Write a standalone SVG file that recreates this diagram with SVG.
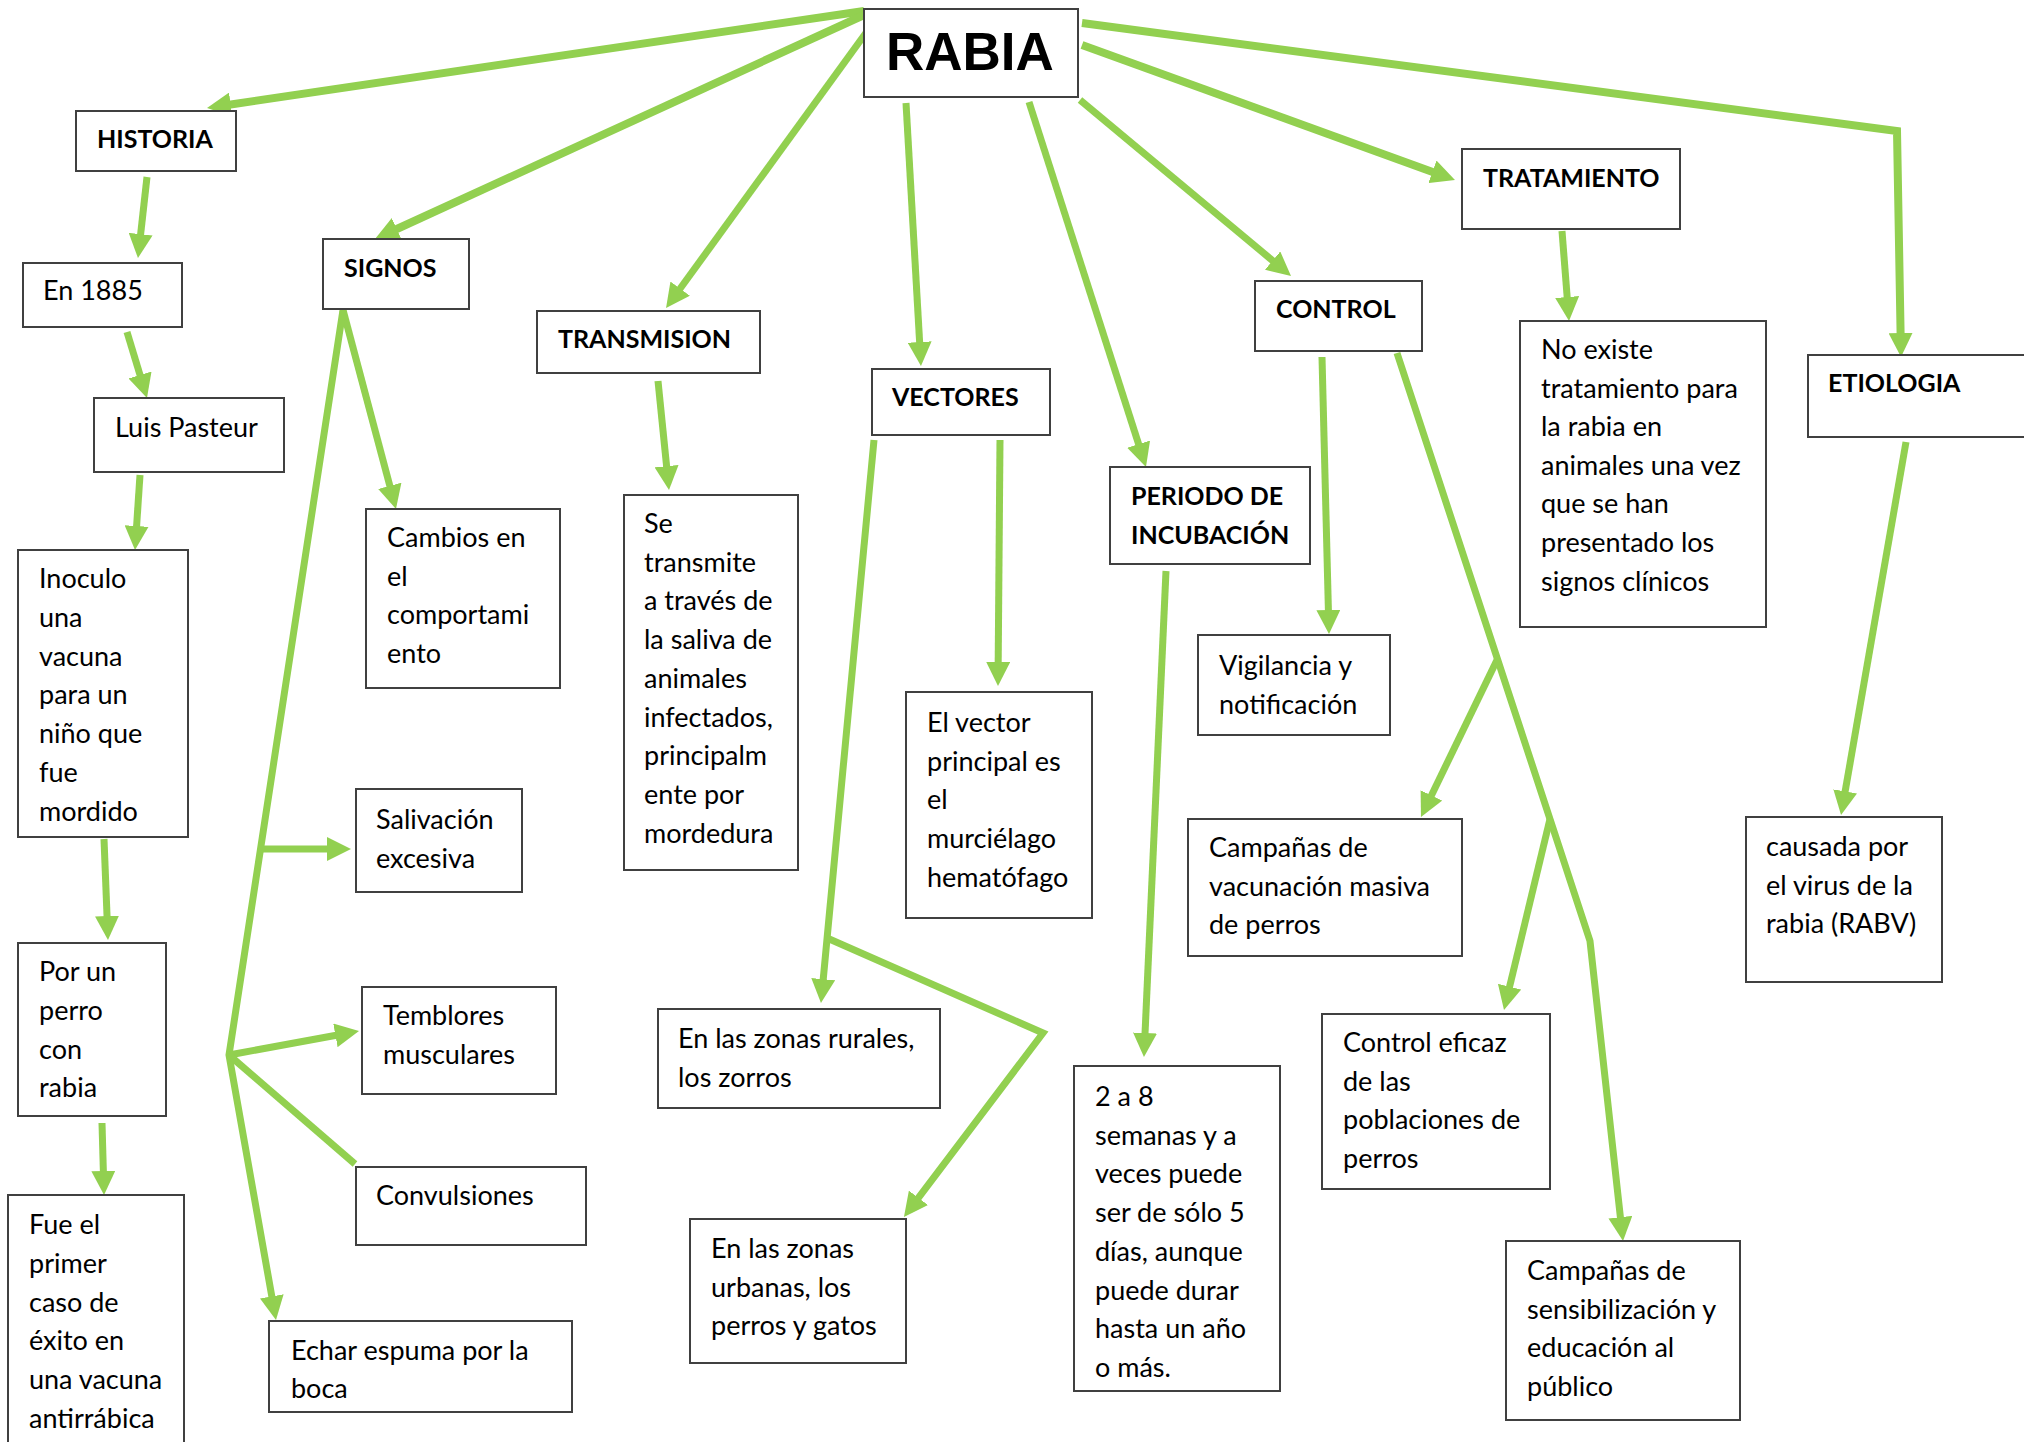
<svg xmlns="http://www.w3.org/2000/svg" width="2024" height="1442" viewBox="0 0 2024 1442">
<style>
.box{fill:#fff;stroke:#404040;stroke-width:2}
.tx{font-family:Lato,"Open Sans","Liberation Sans",sans-serif;font-size:27px;fill:#000}
.hd{font-family:Lato,"Open Sans","Liberation Sans",sans-serif;font-size:25px;font-weight:bold;fill:#000}
.c{fill:none;stroke:#92D050;stroke-width:7;marker-end:url(#ah)}
.t{fill:none;stroke:#92D050;stroke-width:8;marker-end:url(#ah)}
.n{fill:none;stroke:#92D050;stroke-width:7}
</style>
<defs>
<marker id="ah" viewBox="0 0 24 24" refX="12" refY="12" markerWidth="24" markerHeight="24" markerUnits="userSpaceOnUse" orient="auto">
<path d="M0,0 L24,12 L0,24 z" fill="#92D050"/>
</marker>
</defs>
<rect width="2024" height="1442" fill="#fff"/>
<g id="connectors">
<path class="t" d="M864,11 L218.9,106.2"/>
<path class="t" d="M864,15 L385.9,234"/>
<path class="c" d="M868,30 L673.1,298.3"/>
<path class="c" d="M906,103 L920.3,354"/>
<path class="c" d="M1029,102 L1142.3,455.6"/>
<path class="c" d="M1080,100 L1281.8,268.3"/>
<path class="t" d="M1082,45 L1443.7,175.9"/>
<path class="t" d="M1082,23 L1897,131 L1900.8,345"/>
<path class="c" d="M147,177 L139.3,246.1"/>
<path class="c" d="M127,332 L143.5,386.5"/>
<path class="c" d="M140,475 L135.8,538"/>
<path class="c" d="M104,839 L107.5,928"/>
<path class="c" d="M102,1123 L103.7,1183"/>
<path class="c" d="M658,381 L667.8,478.1"/>
<path class="c" d="M343,310 L392.9,497.4"/>
<path class="c" d="M343,310 L229,1055 L273.9,1308.2"/>
<path class="c" d="M261,849 L339,849"/>
<path class="c" d="M229,1055 L347.2,1033.2"/>
<path class="n" d="M229,1055 L355,1164"/>
<path class="c" d="M1000,440 L998.1,674"/>
<path class="c" d="M874,440 L822.1,991.1"/>
<path class="c" d="M827,938 L1043,1033 L911.2,1207.4"/>
<path class="c" d="M1166,571 L1144.5,1045"/>
<path class="c" d="M1322,357 L1328.7,622"/>
<path class="c" d="M1397,353 L1590,941 L1621.7,1229.1"/>
<path class="c" d="M1497,660 L1426.2,806.2"/>
<path class="c" d="M1550,819 L1506.8,998.3"/>
<path class="c" d="M1562,231 L1568.1,309"/>
<path class="c" d="M1906,442 L1843.1,803.2"/>
</g>
<g id="rabia"><rect class="box" x="864" y="9" width="214" height="88"/><text x="886" y="70" font-family="'Liberation Sans',Arial,sans-serif" font-size="53" font-weight="bold">RABIA</text></g>
<g id="historia"><rect class="box" x="76" y="111" width="160" height="60"/><text class="hd" x="97" y="148">HISTORIA</text></g>
<g id="en1885"><rect class="box" x="23" y="263" width="159" height="64"/><text class="tx" x="43" y="300">En 1885</text></g>
<g id="pasteur"><rect class="box" x="94" y="398" width="190" height="74"/><text class="tx" x="115" y="437">Luis Pasteur</text></g>
<g id="inoculo"><rect class="box" x="18" y="550" width="170" height="287"/><text class="tx" x="39" y="588"><tspan x="39">Inoculo</tspan><tspan x="39" dy="38.8">una</tspan><tspan x="39" dy="38.8">vacuna</tspan><tspan x="39" dy="38.8">para un</tspan><tspan x="39" dy="38.8">niño que</tspan><tspan x="39" dy="38.8">fue</tspan><tspan x="39" dy="38.8">mordido</tspan></text></g>
<g id="porun"><rect class="box" x="18" y="943" width="148" height="173"/><text class="tx" x="39" y="981"><tspan x="39">Por un</tspan><tspan x="39" dy="38.8">perro</tspan><tspan x="39" dy="38.8">con</tspan><tspan x="39" dy="38.8">rabia</tspan></text></g>
<g id="fueel"><rect class="box" x="8" y="1195" width="176" height="260"/><text class="tx" x="29" y="1234"><tspan x="29">Fue el</tspan><tspan x="29" dy="38.8">primer</tspan><tspan x="29" dy="38.8">caso de</tspan><tspan x="29" dy="38.8">éxito en</tspan><tspan x="29" dy="38.8">una vacuna</tspan><tspan x="29" dy="38.8">antirrábica</tspan></text></g>
<g id="signos"><rect class="box" x="323" y="239" width="146" height="70"/><text class="hd" x="344" y="277">SIGNOS</text></g>
<g id="cambios"><rect class="box" x="366" y="509" width="194" height="179"/><text class="tx" x="387" y="547"><tspan x="387">Cambios en</tspan><tspan x="387" dy="38.7">el</tspan><tspan x="387" dy="38.7">comportami</tspan><tspan x="387" dy="38.7">ento</tspan></text></g>
<g id="salivacion"><rect class="box" x="356" y="789" width="166" height="103"/><text class="tx" x="376" y="829"><tspan x="376">Salivación</tspan><tspan x="376" dy="38.5">excesiva</tspan></text></g>
<g id="temblores"><rect class="box" x="362" y="987" width="194" height="107"/><text class="tx" x="383" y="1025"><tspan x="383">Temblores</tspan><tspan x="383" dy="38.7">musculares</tspan></text></g>
<g id="convulsiones"><rect class="box" x="356" y="1167" width="230" height="78"/><text class="tx" x="376" y="1205">Convulsiones</text></g>
<g id="espuma"><rect class="box" x="269" y="1321" width="303" height="91"/><text class="tx" x="291" y="1360"><tspan x="291">Echar espuma por la</tspan><tspan x="291" dy="37.5">boca</tspan></text></g>
<g id="transmision"><rect class="box" x="537" y="311" width="223" height="62"/><text class="hd" x="558" y="348">TRANSMISION</text></g>
<g id="setransmite"><rect class="box" x="624" y="495" width="174" height="375"/><text class="tx" x="644" y="533"><tspan x="644">Se</tspan><tspan x="644" dy="38.7">transmite</tspan><tspan x="644" dy="38.7">a través de</tspan><tspan x="644" dy="38.7">la saliva de</tspan><tspan x="644" dy="38.7">animales</tspan><tspan x="644" dy="38.7">infectados,</tspan><tspan x="644" dy="38.7">principalm</tspan><tspan x="644" dy="38.7">ente por</tspan><tspan x="644" dy="38.7">mordedura</tspan></text></g>
<g id="vectores"><rect class="box" x="872" y="369" width="178" height="66"/><text class="hd" x="892" y="406">VECTORES</text></g>
<g id="elvector"><rect class="box" x="906" y="692" width="186" height="226"/><text class="tx" x="927" y="732"><tspan x="927">El vector</tspan><tspan x="927" dy="38.7">principal es</tspan><tspan x="927" dy="38.7">el</tspan><tspan x="927" dy="38.7">murciélago</tspan><tspan x="927" dy="38.7">hematófago</tspan></text></g>
<g id="rurales"><rect class="box" x="658" y="1009" width="282" height="99"/><text class="tx" x="678" y="1048"><tspan x="678">En las zonas rurales,</tspan><tspan x="678" dy="38.7">los zorros</tspan></text></g>
<g id="urbanas"><rect class="box" x="690" y="1219" width="216" height="144"/><text class="tx" x="711" y="1258"><tspan x="711">En las zonas</tspan><tspan x="711" dy="38.7">urbanas, los</tspan><tspan x="711" dy="38.7">perros y gatos</tspan></text></g>
<g id="periodo"><rect class="box" x="1110" y="467" width="200" height="97"/><text class="hd" x="1131" y="505"><tspan x="1131">PERIODO DE</tspan><tspan x="1131" dy="38.7">INCUBACIÓN</tspan></text></g>
<g id="dosaocho"><rect class="box" x="1074" y="1066" width="206" height="325"/><text class="tx" x="1095" y="1106"><tspan x="1095">2 a 8</tspan><tspan x="1095" dy="38.7">semanas y a</tspan><tspan x="1095" dy="38.7">veces puede</tspan><tspan x="1095" dy="38.7">ser de sólo 5</tspan><tspan x="1095" dy="38.7">días, aunque</tspan><tspan x="1095" dy="38.7">puede durar</tspan><tspan x="1095" dy="38.7">hasta un año</tspan><tspan x="1095" dy="38.7">o más.</tspan></text></g>
<g id="control"><rect class="box" x="1255" y="281" width="167" height="70"/><text class="hd" x="1276" y="318">CONTROL</text></g>
<g id="vigilancia"><rect class="box" x="1198" y="635" width="192" height="100"/><text class="tx" x="1219" y="675"><tspan x="1219">Vigilancia y</tspan><tspan x="1219" dy="38.7">notificación</tspan></text></g>
<g id="campvac"><rect class="box" x="1188" y="819" width="274" height="137"/><text class="tx" x="1209" y="857"><tspan x="1209">Campañas de</tspan><tspan x="1209" dy="38.7">vacunación masiva</tspan><tspan x="1209" dy="38.7">de perros</tspan></text></g>
<g id="controleficaz"><rect class="box" x="1322" y="1014" width="228" height="175"/><text class="tx" x="1343" y="1052"><tspan x="1343">Control eficaz</tspan><tspan x="1343" dy="38.7">de las</tspan><tspan x="1343" dy="38.7">poblaciones de</tspan><tspan x="1343" dy="38.7">perros</tspan></text></g>
<g id="campsens"><rect class="box" x="1506" y="1241" width="234" height="179"/><text class="tx" x="1527" y="1280"><tspan x="1527">Campañas de</tspan><tspan x="1527" dy="38.7">sensibilización y</tspan><tspan x="1527" dy="38.7">educación al</tspan><tspan x="1527" dy="38.7">público</tspan></text></g>
<g id="tratamiento"><rect class="box" x="1462" y="149" width="218" height="80"/><text class="hd" x="1483" y="187">TRATAMIENTO</text></g>
<g id="noexiste"><rect class="box" x="1520" y="321" width="246" height="306"/><text class="tx" x="1541" y="359"><tspan x="1541">No existe</tspan><tspan x="1541" dy="38.6">tratamiento para</tspan><tspan x="1541" dy="38.6">la rabia en</tspan><tspan x="1541" dy="38.6">animales una vez</tspan><tspan x="1541" dy="38.6">que se han</tspan><tspan x="1541" dy="38.6">presentado los</tspan><tspan x="1541" dy="38.6">signos clínicos</tspan></text></g>
<g id="etiologia"><rect class="box" x="1808" y="355" width="230" height="82"/><text class="hd" x="1828" y="392">ETIOLOGIA</text></g>
<g id="causada"><rect class="box" x="1746" y="817" width="196" height="165"/><text class="tx" x="1766" y="856"><tspan x="1766">causada por</tspan><tspan x="1766" dy="38.7">el virus de la</tspan><tspan x="1766" dy="38.7">rabia (RABV)</tspan></text></g>
</svg>
